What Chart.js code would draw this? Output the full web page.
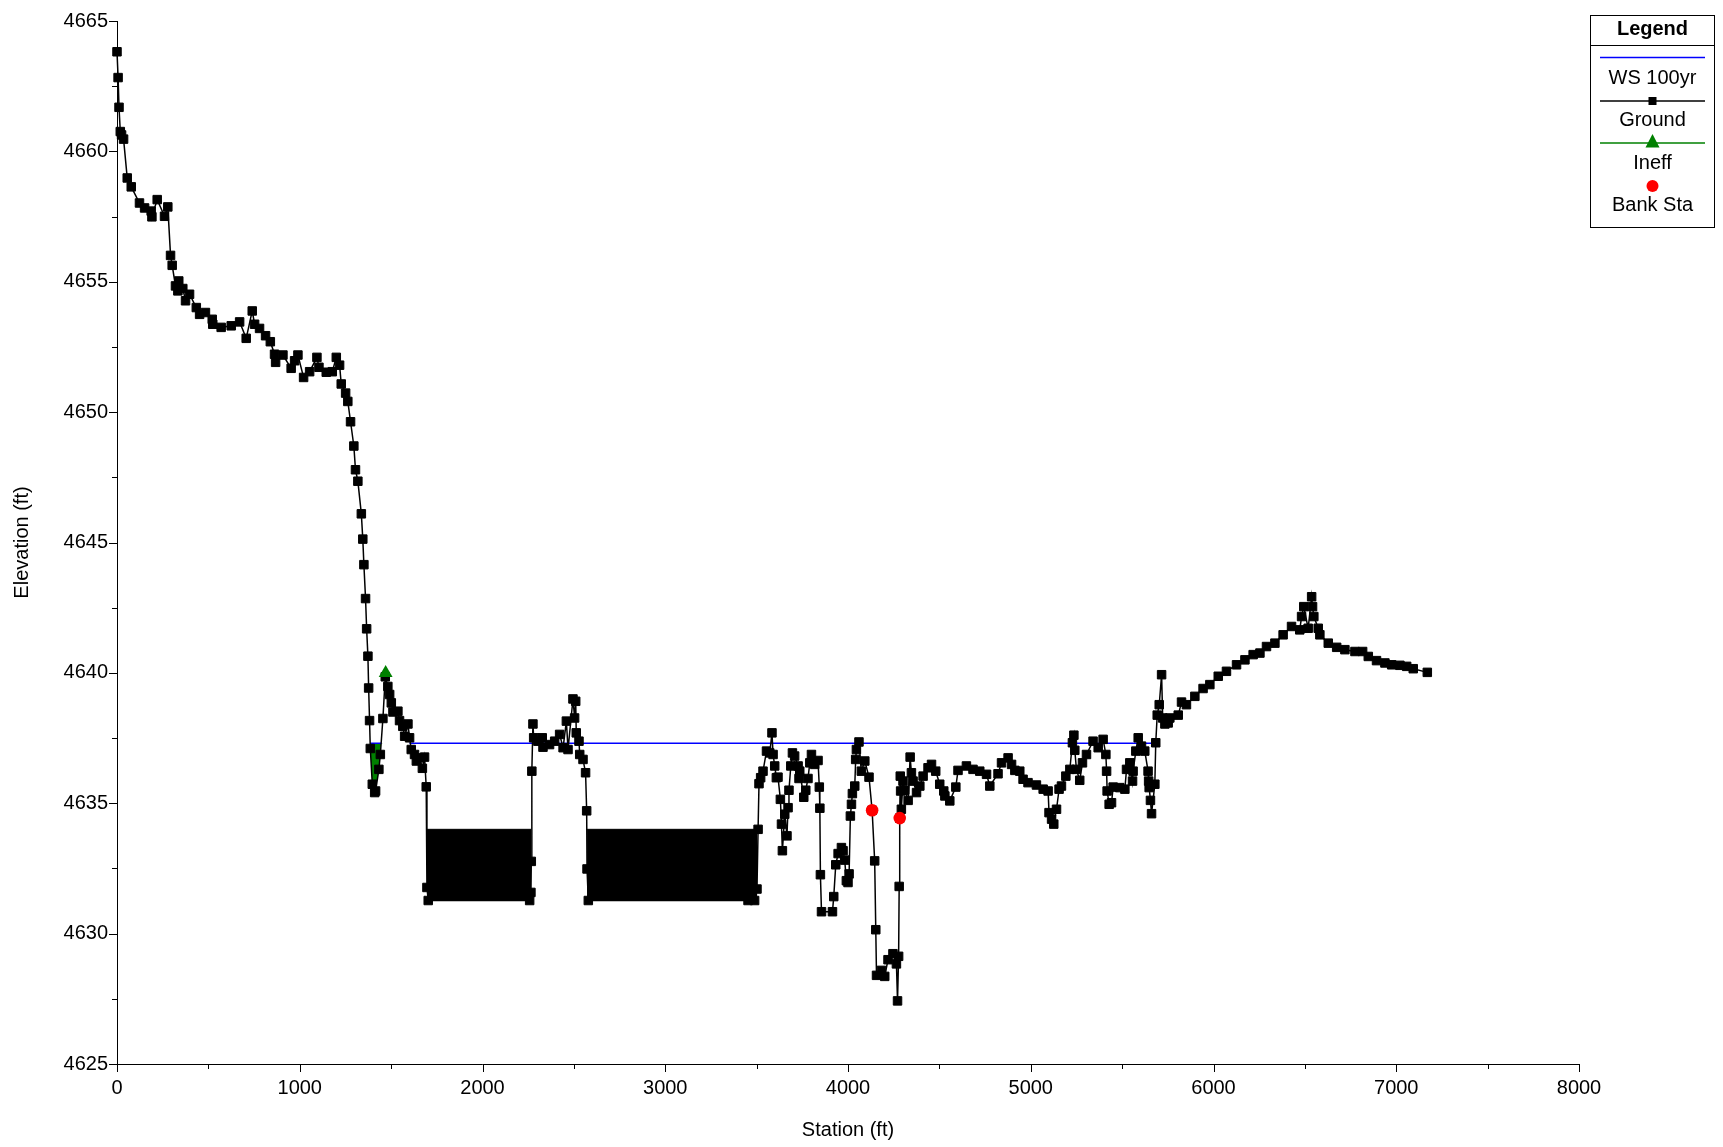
<!DOCTYPE html>
<html>
<head>
<meta charset="utf-8">
<title>Cross Section</title>
<script src="https://cdn.jsdelivr.net/npm/chart.js@4.4.0/dist/chart.umd.min.js"></script>
<style>
  html, body { margin: 0; padding: 0; background: #ffffff; }
  #wrap { width: 1723px; height: 1147px; position: relative; }
</style>
</head>
<body>
<div id="wrap"><canvas id="xs"></canvas></div>
<script>
// ---- Cross-section data (station ft, elevation ft) ----
const groundStations = [
  0, 6, 11, 18, 25, 36, 56, 78, 123, 151, 187, 191, 220, 260, 278, 293, 302, 320, 333, 338,
  360, 375, 397, 434, 452, 484, 521, 524, 570, 625, 671, 707, 740, 753, 780, 813, 839, 862, 868, 908,
  953, 972, 990, 1021, 1054, 1094, 1105, 1145, 1178, 1200, 1218, 1227, 1251, 1263, 1278, 1296, 1305, 1318, 1337, 1345,
  1351, 1360, 1366, 1373, 1377, 1382, 1386, 1397, 1410, 1415, 1433, 1441, 1455, 1468, 1482, 1492, 1501, 1510, 1537, 1546,
  1564, 1574, 1592, 1601, 1610, 1628, 1638, 1656, 1671, 1683, 1692, 1696, 1703, 2258, 2265, 2267, 2270, 2276, 2280, 2303,
  2327, 2331, 2367, 2395, 2422, 2441, 2459, 2468, 2495, 2504, 2510, 2513, 2528, 2532, 2550, 2564, 2570, 2572, 2579, 3453,
  3489, 3502, 3508, 3513, 3522, 3535, 3554, 3572, 3584, 3590, 3599, 3608, 3617, 3630, 3636, 3641, 3654, 3666, 3672, 3677,
  3687, 3696, 3708, 3727, 3732, 3736, 3758, 3769, 3781, 3791, 3800, 3818, 3836, 3843, 3846, 3849, 3855, 3915, 3922, 3933,
  3946, 3964, 3973, 3982, 3991, 4000, 4006, 4013, 4019, 4024, 4037, 4042, 4046, 4060, 4073, 4092, 4115, 4132, 4146, 4152,
  4156, 4183, 4201, 4219, 4246, 4265, 4271, 4277, 4280, 4283, 4286, 4288, 4292, 4301, 4311, 4329, 4340, 4347, 4356, 4375,
  4393, 4411, 4438, 4457, 4480, 4502, 4524, 4530, 4557, 4590, 4602, 4648, 4684, 4721, 4758, 4776, 4821, 4840, 4876, 4895,
  4913, 4940, 4958, 4985, 5031, 5068, 5095, 5100, 5114, 5126, 5141, 5155, 5168, 5192, 5214, 5228, 5236, 5241, 5250, 5268,
  5283, 5305, 5341, 5369, 5396, 5411, 5415, 5418, 5429, 5442, 5451, 5487, 5515, 5524, 5542, 5557, 5560, 5575, 5588, 5606,
  5624, 5642, 5645, 5648, 5655, 5661, 5679, 5684, 5692, 5703, 5716, 5722, 5734, 5752, 5761, 5807, 5825, 5852, 5898, 5943,
  5980, 6026, 6071, 6126, 6172, 6217, 6254, 6290, 6336, 6381, 6427, 6472, 6482, 6494, 6518, 6537, 6542, 6549, 6573, 6582,
  6628, 6674, 6719, 6774, 6816, 6847, 6892, 6938, 6975, 7020, 7057, 7093, 7170
];
const groundElevations = [
  4663.82, 4662.83, 4661.69, 4660.76, 4660.63, 4660.47, 4658.98, 4658.64, 4658.02, 4657.83, 4657.71, 4657.49, 4658.15, 4657.51, 4657.87, 4656.01, 4655.63, 4654.84, 4654.65, 4655.03,
  4654.74, 4654.27, 4654.52, 4654.01, 4653.75, 4653.82, 4653.56, 4653.37, 4653.25, 4653.31, 4653.46, 4652.83, 4653.88, 4653.37, 4653.21, 4652.93, 4652.70, 4652.22, 4651.91, 4652.19,
  4651.68, 4651.97, 4652.19, 4651.33, 4651.55, 4652.10, 4651.72, 4651.53, 4651.55, 4652.10, 4651.80, 4651.08, 4650.73, 4650.41, 4649.63, 4648.70, 4647.79, 4647.35, 4646.10, 4645.13,
  4644.15, 4642.85, 4641.69, 4640.64, 4639.42, 4638.17, 4637.10, 4635.73, 4635.41, 4635.47, 4636.30, 4636.87, 4638.25, 4639.85, 4639.48, 4639.17, 4638.85, 4638.50, 4638.53, 4638.17,
  4637.95, 4637.57, 4638.04, 4637.51, 4637.06, 4636.87, 4636.62, 4636.74, 4636.34, 4636.77, 4635.63, 4631.77, 4631.27, 4631.27, 4631.58, 4632.77, 4636.23, 4638.04, 4637.51, 4637.38,
  4637.51, 4637.15, 4637.25, 4637.38, 4637.64, 4637.13, 4638.15, 4637.06, 4639.00, 4638.27, 4638.91, 4637.70, 4637.38, 4636.87, 4636.68, 4636.17, 4634.71, 4632.48, 4631.27, 4631.27,
  4631.27, 4631.71, 4634.00, 4635.75, 4635.98, 4636.23, 4637.00, 4636.93, 4637.70, 4636.87, 4636.43, 4635.98, 4636.00, 4635.15, 4634.20, 4633.18, 4634.58, 4633.75, 4634.83, 4635.50,
  4636.43, 4636.93, 4636.81, 4636.43, 4635.95, 4636.23, 4635.23, 4635.50, 4635.95, 4636.55, 4636.87, 4636.49, 4636.64, 4635.62, 4634.81, 4632.26, 4630.84, 4630.84, 4631.42, 4632.64,
  4633.07, 4633.30, 4633.18, 4632.82, 4632.03, 4631.96, 4632.29, 4634.51, 4634.96, 4635.37, 4635.66, 4636.68, 4637.06, 4637.35, 4636.23, 4636.62, 4636.00, 4634.73, 4632.79, 4630.15,
  4628.40, 4628.59, 4628.36, 4629.00, 4629.23, 4628.84, 4627.42, 4629.13, 4631.81, 4634.43, 4636.04, 4635.47, 4634.77, 4635.85, 4635.50, 4635.11, 4636.77, 4636.17, 4635.85, 4635.41,
  4635.66, 4636.04, 4636.36, 4636.49, 4636.23, 4635.73, 4635.47, 4635.28, 4635.09, 4635.62, 4636.26, 4636.43, 4636.30, 4636.23, 4636.11, 4635.66, 4636.13, 4636.55, 4636.74, 4636.49,
  4636.26, 4636.23, 4635.92, 4635.79, 4635.70, 4635.54, 4635.47, 4634.64, 4634.39, 4634.20, 4634.77, 4635.54, 4635.66, 4636.04, 4636.30, 4637.32, 4637.61, 4637.03, 4636.30, 4635.88,
  4636.55, 4636.87, 4637.38, 4637.13, 4637.45, 4636.87, 4636.23, 4635.47, 4634.96, 4635.02, 4635.62, 4635.60, 4635.54, 4636.30, 4636.55, 4635.85, 4636.23, 4637.00, 4637.51, 4637.19,
  4637.00, 4636.23, 4635.85, 4635.60, 4635.11, 4634.60, 4635.73, 4637.32, 4638.38, 4638.78, 4639.93, 4638.27, 4638.04, 4638.08, 4638.27, 4638.38, 4638.88, 4638.78, 4639.10, 4639.40,
  4639.55, 4639.87, 4640.06, 4640.31, 4640.50, 4640.70, 4640.76, 4641.01, 4641.14, 4641.46, 4641.78, 4641.65, 4642.16, 4642.54, 4641.71, 4642.92, 4642.54, 4642.16, 4641.71, 4641.46,
  4641.14, 4640.98, 4640.89, 4640.82, 4640.82, 4640.63, 4640.47, 4640.38, 4640.31, 4640.29, 4640.25, 4640.16, 4640.02
];

// Water surface (100-yr profile) and the stations where it meets the ground
const wsElevation = 4637.3;
const wsLimits = [[1386, 1446], [1601, 5684]];

// Ineffective flow area: trigger point and the wetted station span it covers
const ineffStations = [1470];
const ineffElevations = [4640.0];
const ineffSpan = [1386, 1455];

// Main-channel bank stations
const bankStations = [4132, 4283];

// Blocked obstructions: station spans, top elevation, resting on the ground floor
const blockSpans = [[1696, 2267], [2572, 3504]];
const blockTop = 4634.0;
const blockFloor = 4631.27;

// Axis ticks
const stationTicks = [0, 1000, 2000, 3000, 4000, 5000, 6000, 7000, 8000];
const elevationTicks = [4625, 4630, 4635, 4640, 4645, 4650, 4655, 4660, 4665];
const stationMinorStep = 500;
const elevationMinorStep = 2.5;

// ---- Build chart datasets ----
const groundPts = groundStations.map((x, i) => ({ x: x, y: groundElevations[i] }));
const bankPts = bankStations.map(s => ({ x: s, y: groundElevations[groundStations.indexOf(s)] }));
const ineffPts = ineffStations.map((s, i) => ({ x: s, y: ineffElevations[i] }));
const ineffAreaPts = groundPts.filter(p => p.x >= ineffSpan[0] && p.x <= ineffSpan[1]);

const wsPts = [];
wsLimits.forEach((seg, i) => {
  if (i > 0) wsPts.push({ x: (wsLimits[i - 1][1] + seg[0]) / 2, y: null });
  wsPts.push({ x: seg[0], y: wsElevation }, { x: seg[1], y: wsElevation });
});

const FONT = "'Liberation Sans', Arial, sans-serif";

const blockSets = blockSpans.map(span => ({
  label: 'Blocked',
  data: [{ x: span[0], y: blockTop }, { x: span[1], y: blockTop }],
  borderColor: '#000000',
  borderWidth: 1,
  backgroundColor: '#000000',
  pointRadius: 0,
  fill: { value: blockFloor },
  order: 5
}));

// Minor/major tick marks drawn outside the plot on both axes
const tickMarks = {
  id: 'tickMarks',
  afterDraw(chart) {
    const { ctx, chartArea: a, scales: { x, y } } = chart;
    ctx.save();
    ctx.strokeStyle = '#000000';
    ctx.lineWidth = 1;
    ctx.beginPath();
    for (let v = y.min; v <= y.max + 1e-6; v += elevationMinorStep) {
      const py = Math.round(y.getPixelForValue(v)) + 0.5;
      const len = elevationTicks.includes(v) ? 8 : 5;
      ctx.moveTo(a.left - len, py);
      ctx.lineTo(a.left, py);
    }
    for (let v = x.min; v <= x.max + 1e-6; v += stationMinorStep) {
      const px = Math.round(x.getPixelForValue(v)) + 0.5;
      const len = stationTicks.includes(v) ? 8 : 5;
      ctx.moveTo(px, a.bottom);
      ctx.lineTo(px, a.bottom + len);
    }
    ctx.stroke();
    ctx.restore();
  }
};

// Boxed legend in the upper-right corner
const boxLegend = {
  id: 'boxLegend',
  afterDraw(chart) {
    const ctx = chart.ctx;
    const L = 1590.5, R = 1714.5, T = 15.5, B = 227.5;
    const cx = (L + R) / 2;
    const x0 = 1600, x1 = 1705;
    ctx.save();
    ctx.fillStyle = '#ffffff';
    ctx.fillRect(L, T, R - L, B - T);
    ctx.strokeStyle = '#000000';
    ctx.lineWidth = 1;
    ctx.strokeRect(L, T, R - L, B - T);
    ctx.beginPath();
    ctx.moveTo(L, 45.5); ctx.lineTo(R, 45.5);
    ctx.stroke();

    ctx.textAlign = 'center';
    ctx.textBaseline = 'middle';
    ctx.fillStyle = '#000000';
    ctx.font = 'bold 20px ' + FONT;
    ctx.fillText('Legend', cx, 29);

    ctx.font = '20px ' + FONT;
    // WS 100yr
    ctx.strokeStyle = '#0000ff';
    ctx.lineWidth = 1.5;
    ctx.beginPath(); ctx.moveTo(x0, 57.5); ctx.lineTo(x1, 57.5); ctx.stroke();
    ctx.fillText('WS 100yr', cx, 78);
    // Ground
    ctx.strokeStyle = '#000000';
    ctx.beginPath(); ctx.moveTo(x0, 101); ctx.lineTo(x1, 101); ctx.stroke();
    ctx.fillRect(cx - 4, 97, 8, 8);
    ctx.fillText('Ground', cx, 120);
    // Ineff
    ctx.strokeStyle = '#008000';
    ctx.beginPath(); ctx.moveTo(x0, 143); ctx.lineTo(x1, 143); ctx.stroke();
    ctx.fillStyle = '#008000';
    ctx.beginPath();
    ctx.moveTo(cx, 134); ctx.lineTo(cx + 7, 147.5); ctx.lineTo(cx - 7, 147.5); ctx.closePath();
    ctx.fill();
    ctx.fillStyle = '#000000';
    ctx.fillText('Ineff', cx, 163);
    // Bank Sta
    ctx.fillStyle = '#ff0000';
    ctx.beginPath(); ctx.arc(cx, 186, 6, 0, Math.PI * 2); ctx.fill();
    ctx.fillStyle = '#000000';
    ctx.fillText('Bank Sta', cx, 205);
    ctx.restore();
  }
};

new Chart(document.getElementById('xs'), {
  type: 'line',
  data: {
    datasets: [
      {
        label: 'Bank Sta', data: bankPts, showLine: false,
        pointStyle: 'circle', pointRadius: 6.3, pointBackgroundColor: '#ff0000', pointBorderColor: '#ff0000',
        pointBorderWidth: 0, order: 0, clip: false
      },
      {
        label: 'Ineff', data: ineffPts, showLine: false,
        pointStyle: 'triangle', pointRadius: 8, pointBackgroundColor: '#008000', pointBorderColor: '#008000',
        pointBorderWidth: 0, order: 0, clip: false
      },
      {
        label: 'Ground', data: groundPts, borderColor: '#000000', borderWidth: 1.5,
        pointStyle: 'rect', pointRadius: 6, pointBackgroundColor: '#000000', pointBorderColor: '#000000',
        pointBorderWidth: 1, fill: false, tension: 0, order: 1, clip: false
      },
      {
        label: 'WS 100yr', data: wsPts, borderColor: '#0000ff', borderWidth: 1.5,
        pointRadius: 0, spanGaps: false, fill: false, order: 2
      },
      {
        label: 'Ineff area', data: ineffAreaPts, borderWidth: 0, borderColor: 'rgba(0,0,0,0)',
        pointRadius: 0, backgroundColor: '#008000',
        fill: { target: { value: wsElevation }, above: 'rgba(0,0,0,0)', below: '#008000' },
        order: 3
      },
      ...blockSets
    ]
  },
  options: {
    responsive: true,
    maintainAspectRatio: false,
    animation: false,
    events: [],
    layout: { padding: { left: 0, top: 17, right: 144, bottom: 0 } },
    plugins: { legend: { display: false }, tooltip: { enabled: false } },
    scales: {
      x: {
        type: 'linear', min: 0, max: 8000,
        afterBuildTicks: s => { s.ticks = stationTicks.map(v => ({ value: v })); },
        afterFit: s => { s.height = 83; },
        grid: { display: false, drawTicks: false },
        border: { display: true, color: '#000000', width: 1 },
        ticks: { color: '#000000', font: { family: FONT, size: 20 }, padding: 12, maxRotation: 0, autoSkip: false,
                 callback: v => String(v) },
        title: { display: true, text: 'Station (ft)', color: '#000000', font: { family: FONT, size: 20 }, padding: { top: 0, bottom: 5 } }
      },
      y: {
        type: 'linear', min: 4625, max: 4665,
        afterBuildTicks: s => { s.ticks = elevationTicks.map(v => ({ value: v })); },
        afterFit: s => { s.width = 117; },
        grid: { display: false, drawTicks: false },
        border: { display: true, color: '#000000', width: 1 },
        ticks: { color: '#000000', font: { family: FONT, size: 20 }, padding: 9, autoSkip: false,
                 callback: v => String(v) },
        title: { display: true, text: 'Elevation (ft)', color: '#000000', font: { family: FONT, size: 20 }, padding: { top: 10, bottom: 0 } }
      }
    }
  },
  plugins: [tickMarks, boxLegend]
});
</script>
</body>
</html>
